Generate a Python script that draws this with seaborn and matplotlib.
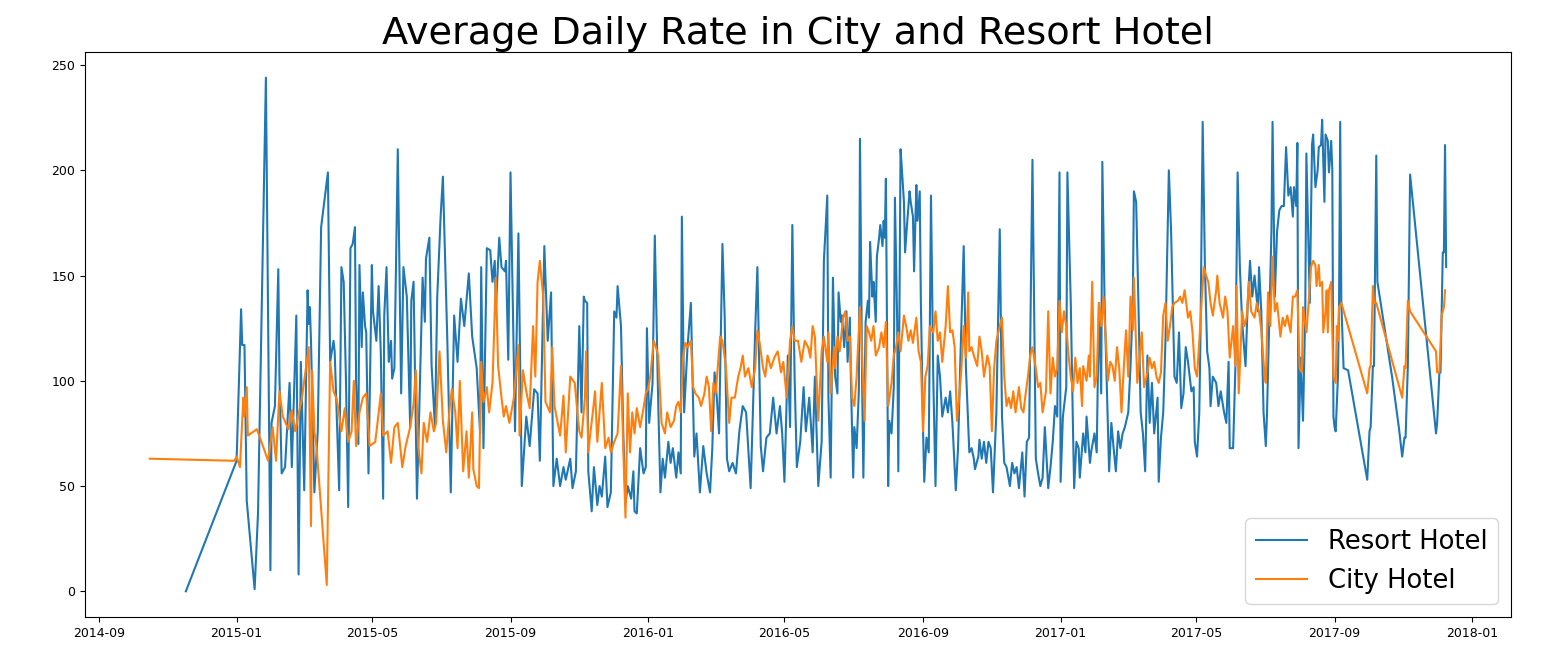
import pandas as pd
import matplotlib
matplotlib.use("Agg")
import matplotlib.pyplot as plt
import matplotlib.dates as mdates
import seaborn as sns

# day offsets are counted from this date
start = "2015-01-01"

resort_day = [
    -45, 0, 4, 5, 7, 9, 16, 19, 26, 30, 31, 34, 37, 38, 40, 43, 47, 49, 53, 55,
    57, 60, 63, 64, 65, 66, 68, 69, 72, 75, 81,
    83, 86, 87, 91, 93, 95, 97, 99, 101, 103, 105, 106, 108, 109, 111, 112, 114, 115, 117, 120,
    121, 124, 126, 128, 130, 131, 133, 135, 137, 138, 140, 143, 146, 148, 151, 154, 155, 157, 160, 162,
    165, 167, 168, 171, 173, 176, 178, 181, 183, 187, 190, 193, 196, 199, 202, 206, 209, 213, 216, 217,
    219, 222, 225, 227, 229, 230, 233, 235, 238, 239, 241, 243, 247, 250, 253, 257, 260, 264, 267, 269,
    273, 276, 279, 281, 284, 287, 290, 292, 296, 298, 301, 304,
    306, 308, 309, 311, 312, 315, 317, 320, 322, 324, 327, 329, 332, 335, 337, 338, 341, 343, 345, 347,
    350, 352, 353, 355, 358, 361, 363, 364, 366, 369, 371, 374, 376, 378, 380, 383, 385, 387, 390, 392,
    394, 395, 397, 400, 403, 406, 408, 411, 414, 417, 420, 422, 424, 426, 428, 431, 433, 435, 437, 440,
    443, 446, 449, 452, 456, 458, 460, 462, 465, 467, 470, 473, 476, 479, 482, 484, 486, 489, 491, 493,
    495, 497, 500, 503, 505, 508, 511, 513, 516, 519, 521,
    524, 525, 527, 529, 531, 533, 534, 536, 537, 539, 541, 542, 544, 545, 547, 548, 550, 552, 553, 555,
    556, 558, 560, 561, 562, 564, 565, 567, 568, 570, 571, 573, 574, 575, 576, 578, 579, 581, 583, 584,
    586, 587, 589, 590, 592, 593, 595, 597, 598, 600, 601, 603, 604, 606, 607, 609, 610, 612, 614, 616,
    618, 620, 622, 624, 626, 629, 631, 633, 635, 638, 640, 642, 645, 647, 650, 652, 654, 655, 658, 659,
    661, 663, 665, 667, 669, 671, 674, 677, 679, 681, 683, 686, 688, 690, 692, 694, 697, 699, 701, 703,
    706, 709, 711, 713, 715, 717, 720, 722, 724, 726, 728, 730, 731, 733, 736, 737,
    740, 742, 743, 745, 747, 748, 751, 753, 754, 757, 758, 761, 763, 765, 767, 768, 770, 773, 774, 776,
    778, 780, 782, 784, 786, 788, 791, 793, 795, 796, 798, 800, 802, 804, 806, 808, 810, 812, 814, 817,
    818, 820, 822, 824, 827, 829, 832, 834, 836, 838, 840, 842, 844, 847, 849, 850, 852, 854, 855, 857,
    859, 861, 863, 864, 866, 869, 871, 873, 876, 878, 880, 881, 884, 886, 888, 890, 892, 895, 897, 899,
    901, 903, 906, 907, 909, 911, 913, 914, 916, 918, 919, 921, 923, 925, 927, 929, 931, 933, 935, 937,
    938, 940, 941, 942, 944, 946, 948, 949, 952, 954, 955,
    957, 959, 960, 962, 963, 965, 966, 968, 969, 971, 972, 973, 974, 975, 977, 978, 979, 980, 982, 986,
    1003, 1005, 1006, 1008, 1009, 1011, 1012, 1025, 1031, 1034, 1036, 1037, 1039, 1041,
    1064, 1065, 1067, 1068, 1070, 1071, 1072, 1073,
]
resort_adr = [
    0, 62, 134, 117, 117, 43, 1, 37, 244, 10, 80, 88, 153, 102, 56, 59, 99, 59, 131, 8,
    109, 48, 143, 127, 135, 119, 70, 47, 76, 173, 199,
    109, 119, 114, 48, 154, 147, 101, 40, 163, 165, 173, 100, 70, 155, 116, 142, 126, 123, 56, 155,
    133, 119, 145, 112, 44, 131, 154, 109, 119, 101, 106, 210, 94, 154, 140, 78, 138, 147, 44, 85,
    149, 128, 158, 168, 107, 78, 140, 178, 197, 118, 47, 131, 109, 139, 126, 151, 121, 106, 75, 154,
    68, 163, 162, 147, 157, 134, 168, 154, 152, 157, 110, 199, 76, 170, 50, 83, 69, 96, 94, 62,
    164, 119, 142, 50, 63, 50, 59, 53, 63, 49, 57, 126,
    85, 140, 138, 137, 57, 38, 59, 41, 50, 45, 64, 40, 47, 133, 130, 145, 126, 76, 42, 50,
    44, 57, 38, 37, 68, 56, 59, 125, 80, 99, 169, 90, 47, 63, 54, 71, 61, 68, 54, 66,
    56, 178, 85, 116, 137, 64, 75, 47, 69, 56, 47, 68, 104, 92, 75, 165, 130, 63, 57, 61,
    56, 76, 88, 85, 49, 85, 123, 154, 69, 57, 73, 75, 92, 75, 88, 75, 52, 112, 78, 174,
    102, 59, 71, 97, 76, 92, 66, 102, 50, 71, 157,
    188, 92, 54, 149, 102, 94, 142, 128, 131, 116, 133, 109, 130, 99, 54, 78, 68, 95, 215, 94,
    54, 128, 138, 130, 166, 140, 147, 128, 159, 168, 174, 164, 176, 168, 196, 50, 81, 75, 97, 187,
    128, 57, 210, 202, 185, 161, 176, 190, 185, 178, 152, 193, 176, 190, 138, 76, 52, 73, 66, 188,
    102, 50, 112, 102, 83, 92, 85, 95, 80, 48, 68, 109, 164, 106, 66, 68, 63, 58, 64, 72,
    63, 71, 61, 71, 68, 47, 85, 172, 83, 61, 59, 50, 61, 56, 59, 49, 66, 45, 71, 73,
    205, 63, 56, 50, 54, 78, 49, 59, 71, 88, 83, 199, 52, 83, 97, 199,
    137, 76, 49, 71, 68, 54, 75, 66, 83, 61, 66, 75, 66, 137, 94, 204, 137, 76, 57, 80,
    68, 57, 76, 68, 75, 78, 85, 107, 137, 190, 185, 137, 85, 75, 57, 112, 80, 99, 75, 92,
    52, 73, 85, 119, 200, 171, 102, 99, 123, 87, 94, 116, 109, 95, 97, 71, 64, 85, 119, 223,
    154, 114, 106, 88, 102, 99, 88, 95, 85, 80, 109, 68, 68, 106, 199, 154, 128, 107, 137, 157,
    140, 150, 133, 154, 133, 85, 69, 83, 126, 171, 223, 140, 171, 181, 183, 183, 211, 188, 192, 178,
    192, 183, 213, 68, 111, 81, 133, 208, 137, 212, 217,
    192, 200, 211, 212, 224, 185, 217, 214, 199, 214, 200, 83, 78, 76, 102, 137, 223, 137, 106, 105,
    53, 76, 78, 107, 107, 207, 147, 102, 78, 64, 73, 73, 107, 198,
    75, 80, 104, 104, 161, 161, 212, 154,
]

city_day = [
    -77, -2, 0, 3, 6, 7, 9, 10, 18, 28, 32, 35, 38, 41, 46, 49, 52, 58, 64, 66,
    67, 69, 71, 80,
    83, 86, 89, 93, 96, 99, 102, 104, 106, 109, 112, 115, 118, 123, 125, 128, 130, 134, 137, 140,
    143, 147, 150, 154, 157, 159, 161, 164, 166, 169, 172, 175, 177, 180, 183, 186, 189, 191, 194, 196,
    198, 201, 204, 206, 209, 210, 213, 215, 217, 219, 222, 224, 227, 230, 232, 235, 237, 239, 242, 246,
    250, 251, 254, 257, 260, 263, 265, 267, 269, 272, 274, 278, 280, 282, 287, 290, 292, 296, 300, 303,
    304, 306, 309, 310, 312, 314, 316, 318, 320, 322, 324, 327, 330, 332, 335, 338, 341, 343, 345, 347,
    349, 351, 353, 355, 358, 361, 363, 365, 367, 370, 372, 374, 377, 380, 382, 385, 388, 390, 392, 394,
    396, 398, 400, 403, 405, 407, 410, 412, 415, 417, 419, 421, 423, 425, 429, 431, 434, 437, 439, 442,
    445, 447, 449, 451, 454, 457, 460, 462, 464, 467, 469, 471, 474, 477, 480, 483, 485, 488, 491, 493,
    495, 498, 501, 504, 507, 509, 511, 513, 516, 519, 521,
    524, 525, 527, 530, 531, 533, 535, 538, 540, 542, 544, 546, 548, 550, 553, 555, 557, 559, 561, 563,
    565, 567, 570, 572, 574, 576, 578, 581, 583, 585, 587, 589, 592, 594, 596, 598, 600, 603, 605, 607,
    609, 611, 613, 615, 618, 620, 622, 624, 626, 629, 631, 633, 635, 637, 639, 641, 643, 645, 647, 649,
    650, 652, 654, 657, 659, 661, 663, 666, 668, 670, 672, 674, 677, 679, 681, 683, 685, 687, 689, 691,
    694, 696, 698, 700, 702, 704, 706, 709, 711, 713, 715, 718, 720, 722, 724, 726, 728, 730, 732, 734,
    736, 738,
    740, 742, 744, 746, 748, 750, 751, 754, 756, 757, 759, 761, 763, 765, 767, 769, 770, 773, 775, 777,
    779, 781, 783, 785, 787, 789, 791, 793, 795, 796, 799, 801, 803, 805, 808, 810, 812, 814, 816, 818,
    820, 822, 824, 826, 828, 830, 832, 835, 837, 839, 841, 844, 846, 848, 850, 852, 854, 856, 858, 860,
    862, 864, 866, 869, 870, 872, 875, 877, 879, 881, 884, 886, 887, 889, 892, 894, 896, 898, 900, 903,
    905, 907, 909, 912, 913, 915, 917, 919, 921, 923, 926, 928, 930, 932, 935, 937, 939, 941, 943, 945,
    946, 949, 951, 953, 955,
    957, 958, 960, 961, 963, 964, 966, 967, 968, 969, 971, 972, 973, 975, 976, 977, 978, 980,
    1003, 1005, 1006, 1008, 1009, 1011, 1034, 1036, 1037, 1039, 1041,
    1064, 1065, 1067, 1069, 1071, 1072,
]
city_adr = [
    63, 62, 64, 59, 92, 83, 97, 74, 77, 62, 78, 62, 95, 83, 77, 86, 76, 92, 116, 31,
    105, 76, 68, 3,
    109, 95, 91, 76, 87, 71, 76, 100, 69, 85, 92, 94, 69, 71, 80, 94, 74, 76, 61, 78,
    80, 59, 69, 78, 89, 105, 69, 56, 80, 71, 85, 76, 80, 114, 81, 66, 87, 96, 85, 68,
    100, 57, 76, 54, 85, 58, 50, 49, 109, 90, 97, 85, 99, 149, 107, 92, 83, 88, 80, 92,
    117, 74, 105, 95, 87, 126, 102, 147, 157, 140, 90, 85, 116, 88, 74, 93, 66, 102, 99, 81,
    76, 73, 92, 114, 66, 76, 85, 95, 71, 85, 99, 68, 73, 66, 71, 75, 107, 68, 35, 94,
    66, 85, 75, 87, 78, 87, 94, 96, 102, 119, 116, 112, 80, 75, 85, 78, 81, 88, 90, 85,
    111, 118, 116, 119, 97, 94, 92, 88, 94, 102, 97, 76, 99, 94, 121, 119, 107, 80, 92, 92,
    102, 106, 112, 102, 106, 97, 106, 124, 118, 106, 102, 112, 106, 111, 114, 104, 109, 92, 119, 126,
    119, 119, 109, 119, 116, 111, 126, 121, 81, 114, 121,
    109, 123, 94, 116, 106, 121, 114, 130, 133, 119, 121, 92, 88, 102, 135, 111, 81, 126, 123, 119,
    126, 112, 116, 123, 116, 128, 88, 99, 112, 116, 123, 114, 131, 126, 119, 124, 118, 130, 114, 109,
    76, 102, 107, 126, 123, 133, 119, 123, 109, 126, 145, 123, 124, 116, 81, 92, 106, 126, 111, 142,
    114, 116, 112, 107, 121, 114, 102, 112, 107, 76, 106, 119, 126, 130, 102, 88, 92, 87, 95, 85,
    97, 87, 85, 94, 102, 112, 116, 106, 97, 99, 85, 95, 133, 94, 111, 102, 106, 138, 123, 133,
    126, 112,
    102, 95, 111, 99, 106, 88, 107, 100, 112, 102, 147, 97, 102, 137, 126, 140, 130, 100, 109, 107,
    100, 116, 106, 85, 106, 124, 102, 140, 124, 149, 99, 111, 123, 97, 104, 111, 106, 109, 102, 99,
    104, 131, 137, 119, 126, 135, 137, 138, 140, 137, 143, 130, 133, 123, 106, 102, 119, 137, 154, 150,
    147, 137, 131, 143, 150, 137, 130, 140, 133, 111, 126, 107, 145, 94, 133, 126, 130, 147, 133, 130,
    137, 133, 124, 102, 99, 142, 126, 159, 133, 137, 121, 130, 126, 131, 123, 140, 140, 143, 106, 104,
    135, 123, 137, 154, 157,
    155, 145, 155, 145, 147, 123, 133, 143, 123, 143, 147, 123, 102, 99, 126, 119, 135, 137,
    94, 106, 107, 145, 137, 137, 92, 107, 106, 138, 133,
    114, 104, 104, 131, 135, 143,
]

base = pd.Timestamp(start)
resort = pd.DataFrame({"date": base + pd.to_timedelta(resort_day, unit="D"), "adr": resort_adr})
city = pd.DataFrame({"date": base + pd.to_timedelta(city_day, unit="D"), "adr": city_adr})

fig, ax = plt.subplots(figsize=(15.59, 6.71), dpi=100)
fig.subplots_adjust(left=0.0545, right=0.9692, bottom=0.0805, top=0.9225)

sns.lineplot(data=resort, x="date", y="adr", ax=ax, color="#1f77b4",
             label="Resort Hotel", estimator=None, sort=False, linewidth=1.5)
sns.lineplot(data=city, x="date", y="adr", ax=ax, color="#ff7f0e",
             label="City Hotel", estimator=None, sort=False, linewidth=1.5)

ax.set_title("Average Daily Rate in City and Resort Hotel", fontsize=27.5)
ax.set_xlabel("")
ax.set_ylabel("")
ax.xaxis.set_major_locator(mdates.MonthLocator(bymonth=(1, 5, 9)))
ax.xaxis.set_major_formatter(mdates.DateFormatter("%Y-%m"))
ax.tick_params(labelsize=9)
ax.legend(loc="lower right", fontsize=18.6)

plt.savefig("out.png", dpi=100)
